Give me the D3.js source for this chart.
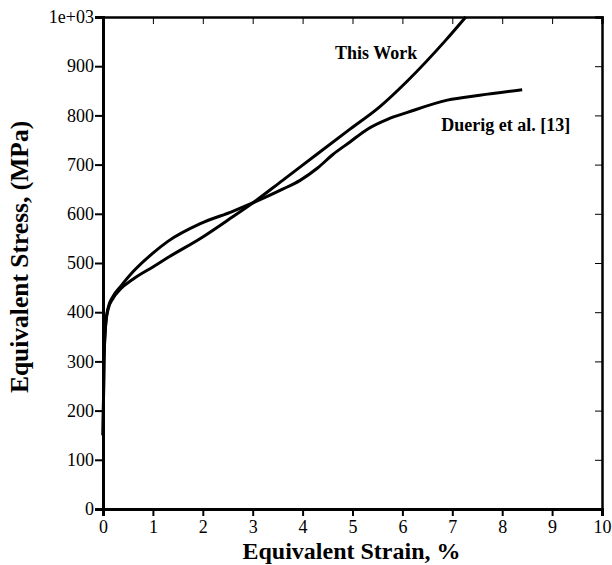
<!DOCTYPE html>
<html>
<head>
<meta charset="utf-8">
<script src="https://cdn.jsdelivr.net/npm/d3@7"></script>
<style>
  body { margin: 0; background: #fff; }
  svg { display: block; }
  text { font-family: "Liberation Serif", "Times New Roman", serif; fill: #000; }
</style>
</head>
<body>
<svg id="chart" width="612" height="565"></svg>
<script>
// strain (%) vs stress (MPa)
const thisWork = [
  [0, 150], [0.02, 300], [0.05, 370], [0.1, 405], [0.2, 428], [0.35, 447],
  [0.6, 467], [1, 492], [1.3, 511], [2, 553], [2.6, 594], [3, 622],
  [3.6, 668], [4.3, 722], [4.95, 772], [5.55, 818], [6.1, 870], [6.87, 953], [7.27, 1000]
];
const duerig = [
  [0, 150], [0.02, 300], [0.05, 370], [0.1, 408], [0.2, 432], [0.35, 452],
  [0.6, 482], [1, 520], [1.3, 544], [1.95, 580], [2.6, 605], [3, 622],
  [3.6, 650], [3.95, 668], [4.3, 693], [4.6, 720], [4.95, 746], [5.3, 772],
  [5.7, 792], [6.1, 806], [6.9, 831], [7.55, 841], [8.4, 852]
];
const xTicks = [0, 1, 2, 3, 4, 5, 6, 7, 8, 9, 10];
const yTicks = [0, 100, 200, 300, 400, 500, 600, 700, 800, 900, 1000];
const yTickLabels = ["0", "100", "200", "300", "400", "500", "600", "700", "800", "900", "1e+03"];
const seriesLabels = [
  { text: "This Work", x: 4.65, y: 915 },
  { text: "Duerig et al. [13]", x: 6.78, y: 768 }
];

const margin = { top: 17, right: 10, bottom: 56, left: 103 };
const width = 612 - margin.left - margin.right;
const height = 565 - margin.top - margin.bottom;

const svg = d3.select('#chart');
const g = svg.append('g').attr('transform', `translate(${margin.left},${margin.top})`);

const x = d3.scaleLinear().domain([0, 10]).range([0, width]);
const y = d3.scaleLinear().domain([0, 1000]).range([height, 0]);

// inner ticks on top and right
g.append('g')
  .call(d3.axisTop(x).tickValues(xTicks).tickSize(-7).tickFormat(''))
  .call(a => a.select('.domain').attr('stroke-width', 2.5));
g.append('g')
  .attr('transform', `translate(${width},0)`)
  .call(d3.axisRight(y).tickValues(yTicks).tickSize(-7).tickFormat(''))
  .call(a => a.select('.domain').attr('stroke-width', 2.5));

const xAxis = g.append('g')
  .attr('transform', `translate(0,${height})`)
  .call(d3.axisBottom(x).tickValues(xTicks).tickSize(7).tickPadding(4));
const yAxis = g.append('g')
  .call(d3.axisLeft(y).tickValues(yTicks).tickSize(8).tickPadding(1)
    .tickFormat((d, i) => yTickLabels[i]));

[xAxis, yAxis].forEach(a => {
  a.select('.domain').attr('stroke-width', 3);
  a.selectAll('.tick line').attr('stroke-width', 2);
  a.selectAll('.tick text')
    .style('font-family', '"Liberation Serif", serif')
    .style('font-size', '18px');
});

const line = d3.line()
  .x(d => x(d[0]))
  .y(d => y(d[1]))
  .curve(d3.curveMonotoneX);

[thisWork, duerig].forEach(s => {
  g.append('path')
    .datum(s)
    .attr('fill', 'none')
    .attr('stroke', '#000')
    .attr('stroke-width', 3)
    .attr('d', line);
});

g.selectAll('.series-label')
  .data(seriesLabels)
  .enter()
  .append('text')
  .attr('x', d => x(d.x))
  .attr('y', d => y(d.y))
  .style('font-size', '18px')
  .style('font-weight', 'bold')
  .text(d => d.text);

svg.append('text')
  .attr('x', margin.left + width / 2 - 1)
  .attr('y', 559)
  .attr('text-anchor', 'middle')
  .style('font-size', '24px')
  .style('font-weight', 'bold')
  .text('Equivalent Strain, %');

svg.append('text')
  .attr('transform', `translate(28,257) rotate(-90)`)
  .attr('text-anchor', 'middle')
  .style('font-size', '25.5px')
  .style('font-weight', 'bold')
  .text('Equivalent Stress, (MPa)');
</script>
</body>
</html>
